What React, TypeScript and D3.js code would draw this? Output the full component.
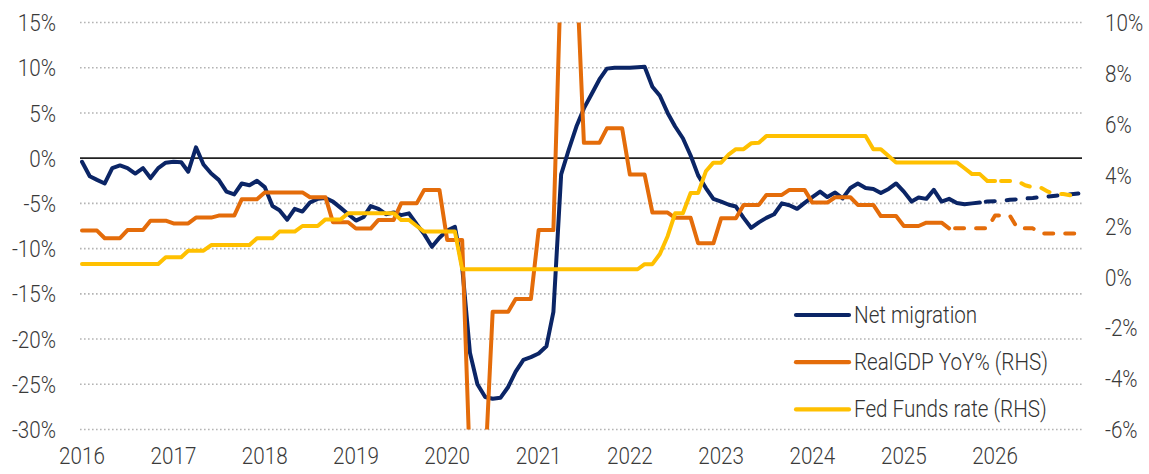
import React from 'react';
import * as d3 from 'd3';

// monthly net migration (% , left axis), Jan 2016 - Dec 2026
const netMigration = [
  -0.4, -2.0, -2.4, -2.8, -1.1, -0.8, -1.1, -1.7, -1.1, -2.2, -1.1, -0.5,
  -0.4, -0.45, -1.5, 1.2, -0.7, -1.7, -2.4, -3.7, -4.0, -2.8, -3.0, -2.5,
  -3.2, -5.3, -5.75, -6.8, -5.6, -5.9, -4.9, -4.5, -4.4, -4.8, -5.5, -6.2,
  -6.9, -6.5, -5.3, -5.6, -6.2, -6.0, -6.3, -6.1, -7.3, -8.4, -9.8, -8.8,
  -8.0, -7.6, -12.0, -21.5, -25.0, -26.4, -26.6, -26.5, -25.3, -23.6, -22.3, -22.0,
  -21.6, -20.8, -17.0, -1.8, 0.9, 3.5, 5.5, 7.1, 8.7, 9.9, 10.0, 10.0,
  10.0, 10.05, 10.1, 7.9, 6.9, 5.0, 3.5, 2.2, 0.3, -1.9, -3.3, -4.5,
  -4.8, -5.15, -5.35, -6.6, -7.7, -7.1, -6.6, -6.2, -5.0, -5.2, -5.6, -4.95,
  -4.3, -3.7, -4.3, -3.8, -4.45, -3.3, -2.8, -3.3, -3.4, -3.85, -3.4, -2.8,
  -3.7, -4.8, -4.35, -4.5, -3.5, -4.8, -4.5, -4.95, -5.1, -5.0, -4.9, -4.8,
  -4.75, -4.7, -4.6, -4.55, -4.45, -4.4, -4.3, -4.25, -4.15, -4.1, -4.0, -3.9,
];

// quarterly real GDP YoY % (right axis), Q1 2016 - Q4 2026
const realGdpQuarterly = [
  1.82, 1.52, 1.84, 2.21,
  2.1, 2.33, 2.41, 3.05,
  3.32, 3.32, 3.13, 2.15,
  1.9, 2.24, 2.89, 3.42,
  1.45, -7.5, -1.37, -0.87,
  1.84, 12.2, 5.27, 5.84,
  4.02, 2.53, 2.32, 1.32,
  2.3, 2.83, 3.22, 3.42,
  2.92, 3.13, 2.83, 2.39,
  2.0, 2.13, 1.91, 1.91,
  2.41, 1.91, 1.71, 1.71,
];

// monthly fed funds rate % (right axis)
const fedFunds = [
  0.51, 0.51, 0.51, 0.51, 0.51, 0.51, 0.51, 0.51, 0.51, 0.51, 0.51, 0.77,
  0.77, 0.77, 1.03, 1.03, 1.03, 1.25, 1.25, 1.25, 1.25, 1.25, 1.25, 1.52,
  1.52, 1.52, 1.78, 1.78, 1.78, 2.0, 2.0, 2.0, 2.26, 2.26, 2.26, 2.5,
  2.5, 2.5, 2.5, 2.5, 2.5, 2.5, 2.24, 2.24, 2.0, 1.78, 1.78, 1.78,
  1.78, 1.78, 0.3, 0.3, 0.3, 0.3, 0.3, 0.3, 0.3, 0.3, 0.3, 0.3,
  0.3, 0.3, 0.3, 0.3, 0.3, 0.3, 0.3, 0.3, 0.3, 0.3, 0.3, 0.3,
  0.3, 0.3, 0.5, 0.5, 0.9, 1.6, 2.5, 2.5, 3.3, 3.3, 4.15, 4.49,
  4.49, 4.82, 5.02, 5.02, 5.25, 5.27, 5.54, 5.54, 5.54, 5.54, 5.54, 5.54,
  5.54, 5.54, 5.54, 5.54, 5.54, 5.54, 5.54, 5.54, 5.02, 5.02, 4.75, 4.5,
  4.5, 4.5, 4.5, 4.5, 4.5, 4.5, 4.5, 4.5, 4.27, 4.04, 4.04, 3.77,
  3.77, 3.77, 3.77, 3.77, 3.6, 3.52, 3.52, 3.35, 3.26, 3.26, 3.2, 3.0,
];

// index of last actual month (forecast drawn dashed after it)
const lastActual = { migration: 118, gdp: 114, fed: 120 };

const leftTicks = [15, 10, 5, 0, -5, -10, -15, -20, -25, -30];
const rightTicks = [10, 8, 6, 4, 2, 0, -2, -4, -6];
const yearTicks = [2016, 2017, 2018, 2019, 2020, 2021, 2022, 2023, 2024, 2025, 2026];

const legendItems = [
  { label: 'Net migration', color: '#0b2566' },
  { label: 'RealGDP YoY% (RHS)', color: '#e46c0a' },
  { label: 'Fed Funds rate (RHS)', color: '#ffc000' },
];

const width = 1149;
const height = 474;
const plot = { left: 80, right: 1082, top: 22.5, bottom: 429.5 };
const font = "Roboto, 'Liberation Sans', sans-serif";
const squeeze = 0.86;

const months = netMigration.map((_, i) => new Date(2016, i, 1));

// condensed label: the installed fonts are all wide, so narrow it horizontally
const Label = ({ x, y, anchor = 'start', dy = '0', fill = '#3a3a3a', children }: any) => (
  <text transform={`translate(${x},${y}) scale(${squeeze},1)`} dy={dy} textAnchor={anchor}
    fontFamily={font} fontWeight={300} fontSize={24} fill={fill}>
    {children}
  </text>
);

const App = () => {
  const x = d3.scaleTime()
    .domain([new Date(2016, 0, 1), new Date(2027, 0, 1)])
    .range([82, 1086.3]);
  const yL = d3.scaleLinear().domain([-30, 15]).range([plot.bottom, plot.top]);
  const yR = d3.scaleLinear().domain([-6, 10]).range([plot.bottom, plot.top]);

  const gdpMonthly = months.map((_, i) => realGdpQuarterly[Math.floor(i / 3)]);

  const split = (vals: number[], last: number) => ({
    solid: vals.map((v, i) => (i <= last ? v : null)),
    dashed: vals.map((v, i) => (i >= last ? v : null)),
  });

  const pathFor = (vals: (number | null)[], scale: d3.ScaleLinear<number, number>) =>
    d3.line<number | null>()
      .defined(d => d !== null)
      .x((_, i) => x(months[i]))
      .y(d => scale(d as number))(vals) || '';

  const series = [
    { vals: netMigration, last: lastActual.migration, scale: yL, color: legendItems[0].color },
    { vals: gdpMonthly, last: lastActual.gdp, scale: yR, color: legendItems[1].color },
    { vals: fedFunds, last: lastActual.fed, scale: yR, color: legendItems[2].color },
  ];

  return (
    <svg width={width} height={height} style={{ position: 'absolute', left: 0, top: 0, background: '#fff' }}>
      <defs>
        <clipPath id="plotClip">
          <rect x={plot.left} y={plot.top} width={plot.right - plot.left + 6} height={plot.bottom - plot.top} />
        </clipPath>
      </defs>

      {leftTicks.map(t => (
        <g key={'gl' + t}>
          {t !== 0 && (
            <line x1={plot.left} x2={plot.right} y1={yL(t)} y2={yL(t)}
              stroke="#b4b4b4" strokeWidth={1.6} strokeDasharray="1.6 2.4" />
          )}
          <Label x={56} y={yL(t)} dy="0.36em" anchor="end">{t}%</Label>
        </g>
      ))}

      {rightTicks.map(t => (
        <Label key={'r' + t} x={1105} y={yR(t)} dy="0.36em">{t}%</Label>
      ))}

      {yearTicks.map(yr => (
        <Label key={yr} x={x(new Date(yr, 0, 1))} y={464} anchor="middle">{yr}</Label>
      ))}

      <line x1={plot.left} x2={plot.right} y1={yL(0)} y2={yL(0)} stroke="#222" strokeWidth={1.6} />

      <g clipPath="url(#plotClip)" fill="none">
        {series.map((s, k) => {
          const { solid, dashed } = split(s.vals, s.last);
          return (
            <g key={k}>
              <path d={pathFor(solid, s.scale)} stroke={s.color} strokeWidth={4}
                strokeLinejoin="round" strokeLinecap="round" />
              <path d={pathFor(dashed, s.scale)} stroke={s.color} strokeWidth={4}
                strokeLinejoin="round" strokeLinecap="round" strokeDasharray="9 12" strokeDashoffset={-6} />
            </g>
          );
        })}
      </g>

      {legendItems.map((item, i) => {
        const ly = 315 + i * 47.2;
        return (
          <g key={item.label}>
            <line x1={796} x2={849} y1={ly} y2={ly} stroke={item.color} strokeWidth={4.2} strokeLinecap="round" />
            <Label x={854} y={ly + 8} fill="#333">{item.label}</Label>
          </g>
        );
      })}
    </svg>
  );
};

export default App;
